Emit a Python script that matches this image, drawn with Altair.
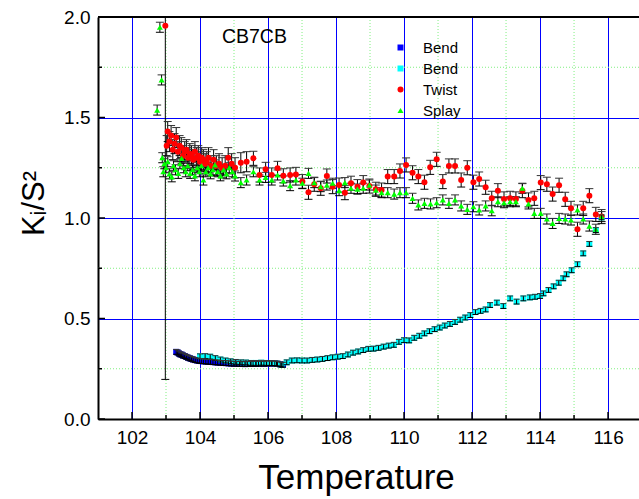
import altair as alt
import pandas as pd

FONT = "Liberation Sans"

# ---------------- axis values ----------------
x_major = [102, 104, 106, 108, 110, 112, 114, 116]
x_minor = [103, 105, 107, 109, 111, 113, 115]
y_major = [0.0, 0.5, 1.0, 1.5, 2.0]
y_minor = [0.25, 0.75, 1.25, 1.75]

series_names = ["Bend", "Bend ", "Twist", "Splay"]

# ---------------- Bend (blue, first run) ----------------
bend1_T = [103.30, 103.34, 103.38, 103.42, 103.46, 103.50, 103.55, 103.60, 103.65, 103.70,
           103.75, 103.80, 103.86, 103.92, 103.98, 104.04, 104.10, 104.17, 104.24, 104.31,
           104.38, 104.45, 104.52, 104.60, 104.68, 104.76, 104.84, 104.92, 105.00, 105.08,
           105.16, 105.24, 105.32, 105.40, 105.48, 105.56, 105.64, 105.72, 105.80, 105.88,
           105.96, 106.04, 106.12, 106.20, 106.28, 106.36, 106.44]
bend1_K = [0.334, 0.331, 0.326, 0.322, 0.320, 0.316, 0.313, 0.309, 0.305, 0.302,
           0.299, 0.296, 0.293, 0.291, 0.289, 0.288, 0.287, 0.286, 0.285, 0.284,
           0.283, 0.282, 0.281, 0.280, 0.279, 0.278, 0.277, 0.276, 0.275, 0.275,
           0.274, 0.274, 0.273, 0.274, 0.274, 0.275, 0.274, 0.275, 0.276, 0.275,
           0.276, 0.277, 0.276, 0.277, 0.275, 0.272, 0.270]
bend_err = 0.012

# ---------------- Bend (cyan, second run) ----------------
bend2_T = [104.00, 104.15, 104.30, 104.45, 104.60, 104.75, 104.90, 105.05, 105.20, 105.35,
           105.50, 105.65, 105.80, 105.95, 106.10, 106.25, 106.40, 106.55, 106.70, 106.85,
           107.00, 107.15, 107.30, 107.45, 107.60, 107.75, 107.90, 108.05, 108.20, 108.35,
           108.50, 108.65, 108.80, 108.95, 109.10, 109.25, 109.40, 109.55, 109.70, 109.85,
           110.00, 110.15, 110.30, 110.45, 110.60, 110.75, 110.90, 111.05, 111.20, 111.35,
           111.50, 111.65, 111.80, 111.95, 112.10, 112.25, 112.40,
           112.53, 112.73, 112.92, 113.12, 113.31, 113.51, 113.70, 113.85, 114.00, 114.10,
           114.25, 114.40, 114.55, 114.68, 114.78, 114.93, 115.10, 115.27, 115.45, 115.64,
           115.81]
bend2_K = [0.312, 0.313, 0.310, 0.303, 0.296, 0.291, 0.287, 0.284, 0.282, 0.281,
           0.279, 0.279, 0.280, 0.279, 0.278, 0.276, 0.270, 0.282, 0.291, 0.292,
           0.291, 0.291, 0.294, 0.296, 0.299, 0.303, 0.307, 0.310, 0.313, 0.321,
           0.330, 0.336, 0.343, 0.349, 0.350, 0.354, 0.360, 0.365, 0.369, 0.384,
           0.392, 0.391, 0.404, 0.414, 0.426, 0.437, 0.447, 0.455, 0.465, 0.473,
           0.483, 0.494, 0.505, 0.517, 0.532, 0.538, 0.545,
           0.567, 0.579, 0.562, 0.600, 0.584, 0.600, 0.605, 0.608, 0.612, 0.625,
           0.642, 0.660, 0.678, 0.700, 0.720, 0.740, 0.770, 0.824, 0.871, 0.940,
           1.003]

# ---------------- Twist (red) ----------------
twist_T = [102.98,
           103.02, 103.05, 103.10, 103.15, 103.20, 103.25, 103.30, 103.35, 103.40, 103.45,
           103.50, 103.55, 103.60, 103.65, 103.70, 103.75, 103.80, 103.85, 103.90, 103.95,
           104.00, 104.05, 104.10, 104.15, 104.20, 104.25, 104.32, 104.40, 104.48, 104.56,
           104.65, 104.74, 104.83, 104.93, 105.03, 105.20, 105.37,
           105.57, 105.75, 105.93, 106.11, 106.28, 106.45, 106.65, 106.82, 107.01, 107.19,
           107.36, 107.55, 107.73, 107.90, 108.09, 108.26, 108.44, 108.63, 108.80, 108.98,
           109.17, 109.34, 109.52, 109.71, 109.88, 110.06, 110.25, 110.42, 110.60, 110.77,
           110.96, 111.14, 111.32, 111.50, 111.68, 111.86, 112.04, 112.21, 112.40, 112.58,
           112.76, 112.94, 113.12, 113.29, 113.48, 113.66, 113.83, 114.02, 114.20, 114.37,
           114.56, 114.74, 114.91, 115.10, 115.27, 115.45, 115.64, 115.81]
twist_K = [1.957,
           1.36, 1.43, 1.38, 1.41, 1.34, 1.37, 1.40, 1.33, 1.36, 1.35,
           1.31, 1.33, 1.34, 1.30, 1.32, 1.31, 1.29, 1.33, 1.30, 1.31,
           1.28, 1.30, 1.29, 1.27, 1.28, 1.30, 1.26, 1.29, 1.26, 1.27,
           1.25, 1.26, 1.30, 1.27, 1.25, 1.275, 1.28,
           1.297, 1.214, 1.242, 1.214, 1.247, 1.210, 1.214, 1.217, 1.181, 1.128,
           1.168, 1.148, 1.209, 1.156, 1.164, 1.126, 1.173, 1.156, 1.176, 1.159,
           1.143, 1.139, 1.206, 1.206, 1.234, 1.264, 1.225, 1.206, 1.178, 1.252,
           1.292, 1.181, 1.259, 1.259, 1.189, 1.250, 1.178, 1.194, 1.153, 1.098,
           1.136, 1.095, 1.098, 1.095, 1.136, 1.090, 1.098, 1.176, 1.168, 1.119,
           1.163, 1.093, 1.048, 0.944, 1.048, 1.111, 1.018, 1.007]
twist_err = [1.76] + [0.05] * 37 + [0.035] * 60

# ---------------- Splay (green) ----------------
splay_T = [102.74, 102.87, 102.82,
           102.89, 102.92, 102.95, 103.00, 103.05, 103.10, 103.17, 103.22, 103.28, 103.36,
           103.41, 103.46, 103.52, 103.58, 103.64, 103.71, 103.78, 103.85, 103.92, 103.98,
           104.04, 104.10, 104.17, 104.24, 104.31, 104.38, 104.44, 104.52, 104.60, 104.69,
           104.78, 104.86, 104.95, 105.03, 105.20, 105.37,
           105.57, 105.75, 105.93, 106.11, 106.28, 106.45, 106.65, 106.82, 107.01, 107.19,
           107.36, 107.55, 107.73, 107.90, 108.09, 108.26, 108.44, 108.63, 108.80, 108.98,
           109.17, 109.34, 109.52, 109.71, 109.88, 110.06, 110.25, 110.42, 110.60, 110.78,
           110.96, 111.14, 111.32, 111.50, 111.68, 111.86, 112.04, 112.21, 112.40, 112.58,
           112.76, 112.94, 113.12, 113.29, 113.48, 113.66, 113.83, 114.02, 114.20, 114.37,
           114.56, 114.74, 114.91, 115.10, 115.27, 115.45, 115.64, 115.81]
splay_K = [1.537, 1.687, 1.949,
           1.30, 1.23, 1.27, 1.25, 1.28, 1.22, 1.205, 1.26, 1.24, 1.222,
           1.27, 1.297, 1.25, 1.23, 1.26, 1.222, 1.24, 1.21, 1.25, 1.23,
           1.26, 1.189, 1.23, 1.25, 1.22, 1.24, 1.264, 1.23, 1.21, 1.239,
           1.22, 1.25, 1.23, 1.209, 1.176, 1.189,
           1.230, 1.189, 1.202, 1.189, 1.214, 1.184, 1.161, 1.189, 1.173, 1.222,
           1.176, 1.156, 1.164, 1.173, 1.136, 1.176, 1.148, 1.144, 1.148, 1.164,
           1.139, 1.126, 1.126, 1.119, 1.126, 1.126, 1.098, 1.065, 1.073, 1.070,
           1.076, 1.090, 1.073, 1.090, 1.060, 1.043, 1.056, 1.040, 1.060, 1.036,
           1.081, 1.076, 1.081, 1.081, 1.148, 1.070, 1.023, 1.023, 0.995, 0.973,
           0.998, 0.995, 0.990, 1.040, 0.995, 0.960, 0.944, 1.007]
splay_err = 0.025

note_T = [105.6]
note_K = [1.90]
note_text = ["CB7CB"]

# ---------------- build tables ----------------
def table(name, T, K, err):
    errs = err if isinstance(err, list) else [err] * len(T)
    return pd.DataFrame({"series": name, "T": T, "K": K,
                         "lo": [k - e for k, e in zip(K, errs)],
                         "hi": [k + e for k, e in zip(K, errs)]})

df_b1 = table(series_names[0], bend1_T, bend1_K, bend_err)
df_b2 = table(series_names[1], bend2_T, bend2_K, bend_err)
df_tw = table(series_names[2], twist_T, twist_K, twist_err)
df_sp = table(series_names[3], splay_T, splay_K, splay_err)
df_all = pd.concat([df_b1, df_b2, df_tw, df_sp], ignore_index=True)
df_ts = pd.concat([df_tw, df_sp], ignore_index=True)
df_bend = pd.concat([df_b1, df_b2], ignore_index=True)

W, H = 541, 402
BLUE = "#0000ff"
MINOR = "#80f080"

xs = alt.Scale(domain=[101, 116.91], nice=False, zero=False)
ys = alt.Scale(domain=[0, 2], nice=False, zero=False)

xaxis = alt.Axis(values=x_major, format="d", grid=True, gridColor=BLUE, gridWidth=1,
                 ticks=False, domainColor="black", domainWidth=2,
                 labelFont=FONT, labelFontSize=19, labelColor="black", labelPadding=9,
                 title="Temperature", titleFont=FONT, titleFontSize=35,
                 titleFontWeight="normal", titleColor="black",
                 titleX=258, titleY=69, titleAlign="center", titleBaseline="alphabetic")
yaxis = alt.Axis(values=y_major, format=".1f", grid=True, gridColor=BLUE, gridWidth=1,
                 ticks=False, domainColor="black", domainWidth=2,
                 labelFont=FONT, labelFontSize=19, labelColor="black", labelPadding=8,
                 title="Kᵢ/S²", titleFont=FONT, titleFontSize=31,
                 titleFontWeight="normal", titleColor="black",
                 titleX=-55, titleY=186, titleAngle=270, titleAlign="center",
                 titleBaseline="alphabetic")

X = lambda f: alt.X(f, type="quantitative", scale=xs, axis=xaxis)
Y = lambda f: alt.Y(f, type="quantitative", scale=ys, axis=yaxis)

grid_x = alt.Chart(pd.DataFrame({"v": x_minor})).mark_rule(
    color=MINOR, strokeDash=[1, 2], strokeWidth=1).encode(x=X("v"))
grid_y = alt.Chart(pd.DataFrame({"v": y_minor})).mark_rule(
    color=MINOR, strokeDash=[1, 2], strokeWidth=1).encode(y=Y("v"))

def errorbars(df, cap):
    base = alt.Chart(df)
    bar = base.mark_rule(color="black", strokeWidth=1, clip=True).encode(
        x=X("T"), y=Y("lo"), y2="hi")
    c1 = base.mark_rule(color="black", strokeWidth=1, clip=True,
                        xOffset=-cap, x2Offset=cap).encode(x=X("T"), x2="T", y=Y("lo"))
    c2 = base.mark_rule(color="#333333", strokeWidth=1, clip=True,
                        xOffset=-cap, x2Offset=cap).encode(x=X("T"), x2="T", y=Y("hi"))
    return [bar, c1, c2]

legend = alt.Legend(title=None, orient="none", legendX=295, legendY=23,
                    labelFont=FONT, labelFontSize=15, labelColor="black",
                    symbolSize=32, symbolStrokeWidth=0, rowPadding=5,
                    labelOffset=15, padding=0)

points = alt.Chart(df_all).mark_point(filled=True, opacity=1, strokeWidth=0, clip=True).encode(
    x=X("T"), y=Y("K"),
    color=alt.Color("series:N", scale=alt.Scale(domain=series_names,
                    range=["#0000ff", "#00ffff", "#ff0000", "#00ff00"]), legend=legend),
    shape=alt.Shape("series:N", scale=alt.Scale(domain=series_names,
                    range=["square", "square", "circle", "triangle-up"]), legend=legend),
    size=alt.Size("series:N", scale=alt.Scale(domain=series_names, range=[36, 36, 55, 70]),
                  legend=None),
)

note = alt.Chart(pd.DataFrame({"T": note_T, "K": note_K, "label": note_text})).mark_text(
    font=FONT, fontSize=19.5, align="center", baseline="middle", color="black").encode(
    x=X("T"), y=Y("K"), text="label:N")

tx_major = alt.Chart(pd.DataFrame({"v": x_major})).mark_rule(color="black", strokeWidth=1.5).encode(
    x=X("v"), y=alt.value(H), y2=alt.value(H - 7))
tx_minor = alt.Chart(pd.DataFrame({"v": x_minor})).mark_rule(color="black", strokeWidth=1.5).encode(
    x=X("v"), y=alt.value(H), y2=alt.value(H - 4))
ty_major = alt.Chart(pd.DataFrame({"v": y_major})).mark_rule(color="black", strokeWidth=1.5).encode(
    y=Y("v"), x=alt.value(0), x2=alt.value(7))
ty_minor = alt.Chart(pd.DataFrame({"v": y_minor})).mark_rule(color="black", strokeWidth=1.5).encode(
    y=Y("v"), x=alt.value(0), x2=alt.value(4))

top = alt.Chart(pd.DataFrame({"a": [0]})).mark_rule(color="black", strokeWidth=2).encode(
    x=alt.value(0), x2=alt.value(W), y=alt.value(0))

layers = [grid_x, grid_y] + errorbars(df_ts, 4) + [points] + errorbars(df_bend, 3) + \
         [note, tx_major, tx_minor, ty_major, ty_minor, top]

chart = alt.layer(*layers).properties(
    width=W, height=H,
    padding={"left": 98, "top": 17, "right": 0, "bottom": 80},
    autosize=alt.AutoSizeParams(type="none"),
    background="white",
).configure_view(stroke=None)

chart.save("out.html", embed_options={"renderer": "svg", "actions": False})
